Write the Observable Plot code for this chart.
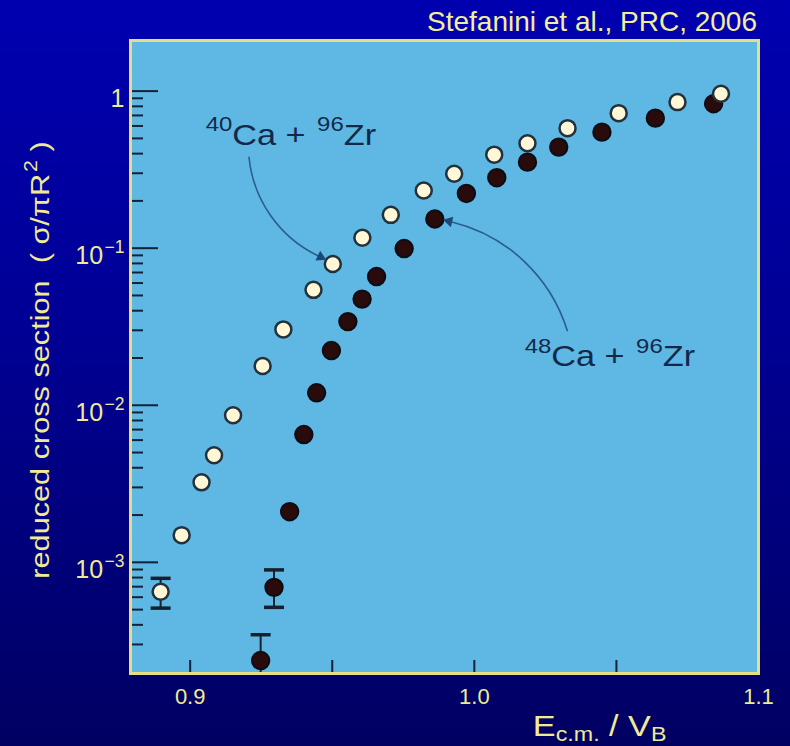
<!DOCTYPE html>
<html><head><meta charset="utf-8">
<script src="https://cdn.jsdelivr.net/npm/d3@7"></script>
<script src="https://cdn.jsdelivr.net/npm/@observablehq/plot@0.6"></script>
<style>
html,body{margin:0;padding:0}
body{width:790px;height:746px;overflow:hidden;position:relative;
  background:linear-gradient(to bottom,#0000b0 0%,#000094 45%,#000062 100%);
  font-family:"Liberation Sans",Arial,sans-serif}
#title{position:absolute;right:33px;top:6px;font-size:28px;color:#f2ee9c;white-space:nowrap}
#chart{position:absolute;left:0;top:0}
</style></head><body>
<div id="title"></div><div id="chart"></div>
<script>
// ---------- data ----------
const title = "Stefanini et al., PRC, 2006";

// 40Ca + 96Zr (open circles)
const ca40_x = [0.8896, 0.8970, 0.9040, 0.9084, 0.9151, 0.9255, 0.9328, 0.9434, 0.9502, 0.9606,
                0.9706, 0.9822, 0.9929, 1.0070, 1.0187, 1.0328, 1.0508, 1.0715, 1.0868];
const ca40_y = [6.5e-4, 1.49e-3, 3.23e-3, 4.8e-3, 8.64e-3, 0.0178, 0.0304, 0.0543, 0.0793, 0.1165,
                0.163, 0.233, 0.298, 0.394, 0.466, 0.581, 0.724, 0.851, 0.962];
// 48Ca + 96Zr (filled circles)
const ca48_x = [0.9248, 0.9295, 0.9350, 0.9400, 0.9445, 0.9497, 0.9555, 0.9605, 0.9656, 0.9753,
                0.9861, 0.9972, 1.0079, 1.0187, 1.0297, 1.0449, 1.0637, 1.0842];
const ca48_y = [2.37e-4, 6.93e-4, 2.10e-3, 6.51e-3, 0.0120, 0.0223, 0.0341, 0.0474, 0.0660, 0.0995,
                0.1534, 0.223, 0.281, 0.353, 0.440, 0.548, 0.673, 0.831];
// error bars
const err40_x = [0.8896], err40_lo = [5.11e-4], err40_hi = [7.91e-4];
const err48_x = [0.9248, 0.9295], err48_lo = [1.5e-4, 5.17e-4], err48_hi = [3.46e-4, 8.95e-4];

// axes
const xDomain = [0.879, 1.1];
const yDomain = [1.96e-4, 2.1];
const xTicks = [0.9, 0.95, 1.0, 1.05];
const xTickLabelVals = [0.9, 1.0, 1.1];
const xTickLabels = ["0.9", "1.0", "1.1"];
const yMajor = [1e-3, 1e-2, 1e-1, 1];
const yTickLabels = ["10^{−3}", "10^{−2}", "10^{−1}", "1"];
const yMinor = [3e-4,4e-4,5e-4,6e-4,7e-4,8e-4,9e-4,
                2e-3,3e-3,4e-3,5e-3,6e-3,7e-3,8e-3,9e-3,
                2e-2,3e-2,4e-2,5e-2,6e-2,7e-2,8e-2,9e-2,
                0.2,0.3,0.4,0.5,0.6,0.7,0.8,0.9];
const yLabel = "reduced cross section  ( σ/πR^{2} )";
const xLabel = "E_{c.m.} / V_{B}";
const xLabelX = 1.0206;

// annotations
const annText = ["^{40}Ca + ^{96}Zr", "^{48}Ca + ^{96}Zr"];
const annX = [0.90475, 1.0170];
const annY = [0.522, 0.0204];
const arrowX1 = [0.9207, 1.0327], arrowY1 = [0.3795, 0.0299];
const arrowX2 = [0.9459, 0.9911], arrowY2 = [0.0879, 0.1485];
const arrowBend = [-30, -30];
const arrowHeadRot = [116, -77];

// ---------- styling ----------
const FONT = "Liberation Sans, Arial, sans-serif";
const PANEL = "#5eb8e3", BORDER = "#e2df84", TICK = "#14213a", YELLOW = "#efea96";
const INK = "#13294a", ARROW = "#2c5d8a";
const W = 790, H = 746, ML = 130, MR = 32, MT = 40, MB = 73;
const PW = W - ML - MR, PH = H - MT - MB;

const ca40 = ca40_x.map((x, i) => ({x, y: ca40_y[i]}));
const ca48 = ca48_x.map((x, i) => ({x, y: ca48_y[i]}));
const errs = [...err40_x.map((x, i) => ({x, lo: err40_lo[i], hi: err40_hi[i]})),
              ...err48_x.map((x, i) => ({x, lo: err48_lo[i], hi: err48_hi[i]}))];
const caps = errs.flatMap(d => [{x: d.x, y: d.hi}, {x: d.x, y: d.lo}])
                 .filter(d => d.y >= yDomain[0]);
const arrows = arrowX1.map((x1, i) => ({x1, y1: arrowY1[i], x2: arrowX2[i], y2: arrowY2[i], rot: arrowHeadRot[i]}));
const ann = annText.map((t, i) => ({t, x: annX[i], y: annY[i]}));

const capSymbol = {draw(ctx, size) { const w = Math.sqrt(size / Math.PI); ctx.moveTo(-w, 0); ctx.lineTo(w, 0); }};

const svg = Plot.plot({
  width: W, height: H,
  marginLeft: ML, marginRight: MR, marginTop: MT, marginBottom: MB,
  style: {background: "transparent", fontFamily: FONT, overflow: "visible"},
  x: {domain: xDomain, axis: null},
  y: {type: "log", domain: yDomain, axis: null},
  marks: [
    Plot.frame({fill: PANEL}),
    Plot.ruleY(yMinor, {y: d => d, insetRight: PW - 13, stroke: TICK, strokeWidth: 2}),
    Plot.ruleY(yMajor, {y: d => d, insetRight: PW - 28, stroke: TICK, strokeWidth: 2}),
    Plot.ruleX(xTicks, {x: d => d, insetTop: PH - 13, stroke: TICK, strokeWidth: 2}),
    Plot.ruleX(errs, {x: "x", y1: "lo", y2: "hi", stroke: "#16202c", strokeWidth: 2, clip: true}),
    Plot.dot(caps, {x: "x", y: "y", symbol: capSymbol, r: 10, fill: "none", stroke: "#16202c", strokeWidth: 3.5}),
    Plot.dot(ca48, {x: "x", y: "y", r: 8.7, fill: "#2a0b0c", stroke: "#0c0c14", strokeWidth: 2}),
    Plot.dot(ca40, {x: "x", y: "y", r: 8, fill: "#fff7d6", stroke: "#22313c", strokeWidth: 2.5}),
    Plot.arrow([arrows[0]], {x1: "x1", y1: "y1", x2: "x2", y2: "y2", bend: arrowBend[0], headLength: 0, insetEnd: 3, stroke: ARROW, strokeWidth: 1.6}),
    Plot.arrow([arrows[1]], {x1: "x1", y1: "y1", x2: "x2", y2: "y2", bend: arrowBend[1], headLength: 0, insetEnd: 3, stroke: ARROW, strokeWidth: 1.6}),
    Plot.dot(arrows, {x: "x2", y: "y2", symbol: "triangle", r: 4, rotate: "rot", fill: "#1d4775", stroke: null}),
    Plot.text(ann, {x: "x", y: "y", text: "t", textAnchor: "start", lineAnchor: "middle", fill: INK, fontSize: 29}),
    Plot.text(yMajor, {y: d => d, text: (d, i) => yTickLabels[i], frameAnchor: "left", textAnchor: "end", lineAnchor: "middle", dx: -6, dy: 8, fill: YELLOW, fontSize: 25}),
    Plot.text(xTickLabelVals, {x: d => d, text: (d, i) => xTickLabels[i], frameAnchor: "bottom", textAnchor: "middle", lineAnchor: "middle", dy: 23, fill: YELLOW, fontSize: 22}),
    Plot.text([yLabel], {text: d => d, frameAnchor: "left", textAnchor: "middle", lineAnchor: "middle", rotate: -90, dx: -90, dy: 3, fill: YELLOW, fontSize: 26}),
    Plot.text([{t: xLabel, x: xLabelX}], {x: "x", text: "t", frameAnchor: "bottom", textAnchor: "start", lineAnchor: "middle", dy: 53, fill: YELLOW, fontSize: 29}),
    Plot.frame({stroke: BORDER, strokeWidth: 3})
  ]
});

document.getElementById("title").textContent = title;
document.getElementById("chart").appendChild(svg);

// rich text: ^{sup} and _{sub}, plus horizontal stretch for wide lettering
const STRETCH = new Set([yLabel, xLabel, ...annText]);
const NS = "http://www.w3.org/2000/svg";
svg.querySelectorAll("text").forEach(el => {
  const raw = el.textContent;
  if (STRETCH.has(raw)) {
    const tr = el.getAttribute("transform") || "";
    el.setAttribute("transform", tr + " scale(1.18,1)");
  }
  if (!/[\^_]\{/.test(raw)) return;
  const fs = parseFloat(getComputedStyle(el).fontSize);
  const re = /([\^_])\{([^}]*)\}|([^\^_]+)/g;
  el.textContent = "";
  let shift = 0, m;
  while ((m = re.exec(raw))) {
    const t = document.createElementNS(NS, "tspan");
    let target = 0, size = fs, txt = m[3];
    if (m[1] === "^") { target = -0.46 * fs; size = 0.7 * fs; txt = m[2]; t.setAttribute("dx", (0.06 * fs).toFixed(2)); }
    else if (m[1] === "_") { target = 0.18 * fs; size = 0.68 * fs; txt = m[2]; }
    t.setAttribute("dy", (target - shift).toFixed(2));
    t.setAttribute("font-size", size.toFixed(2));
    shift = target;
    t.textContent = txt;
    el.appendChild(t);
  }
});
</script>
</body></html>
